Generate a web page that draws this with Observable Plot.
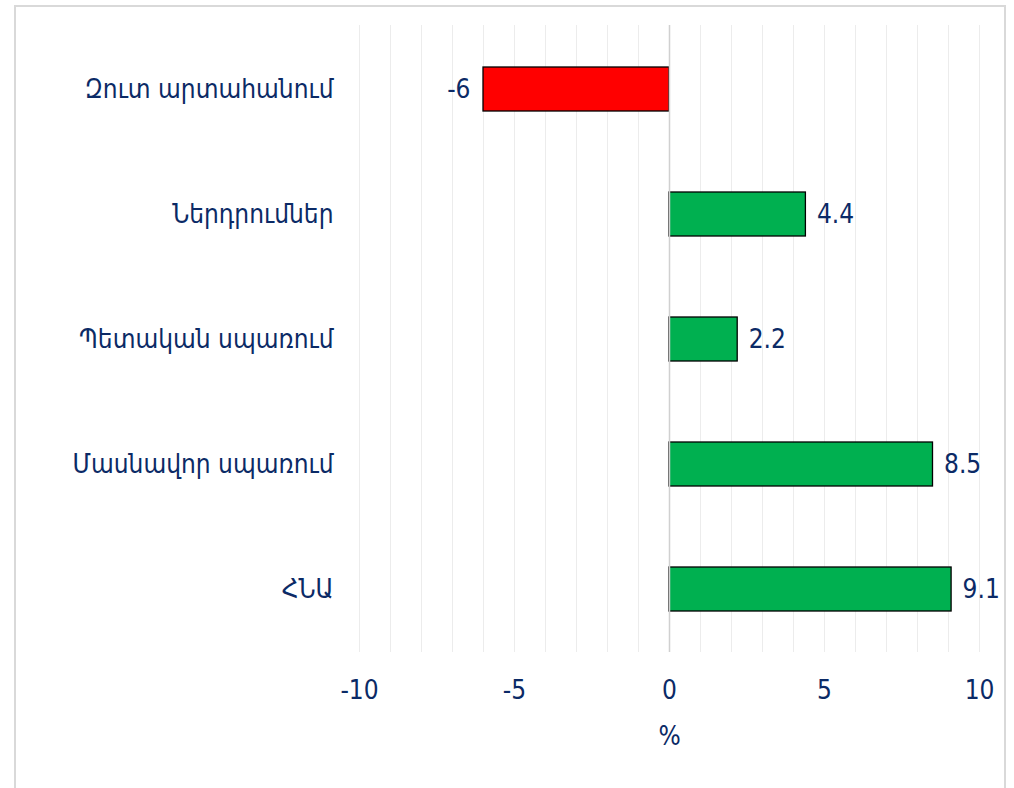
<!DOCTYPE html>
<html>
<head>
<meta charset="utf-8">
<script src="https://cdn.jsdelivr.net/npm/d3@7"></script>
<script src="https://cdn.jsdelivr.net/npm/@observablehq/plot@0.6"></script>
<style>
  html, body { margin: 0; padding: 0; background: #fff; overflow: hidden; }
  #frame { position: absolute; left: 14px; top: 5px; width: 992px; height: 800px; border: 2px solid #d9d9d9; box-sizing: border-box; pointer-events: none; }
  #chart { position: absolute; left: 0; top: 0; }
  #chart svg text { font-stretch: condensed; }
</style>
</head>
<body>
<div id="chart"></div>
<div id="frame"></div>
<script>
const categories = ["Զուտ արտահանում", "Ներդրումներ", "Պետական սպառում", "Մասնավոր սպառում", "ՀՆԱ"];
const values = [-6, 4.4, 2.2, 8.5, 9.1];
const xTicks = [-10, -5, 0, 5, 10];
const gridValues = d3.range(-10, 11);
const axisLabel = "%";

const data = categories.map((c, i) => ({category: c, value: values[i]}));
const textColor = "#0b2a66";
const font = "'DejaVu Sans Condensed', 'DejaVu Sans', sans-serif";

const chart = Plot.plot({
  width: 1014,
  height: 788,
  marginLeft: 359,
  marginRight: 35,
  marginTop: 25,
  marginBottom: 136,
  style: {fontFamily: font, fontSize: "26px", color: textColor, background: "transparent"},
  x: {domain: [-10, 10]},
  y: {domain: categories, paddingInner: 0.65, paddingOuter: 0.325},
  marks: [
    Plot.ruleX(gridValues.filter(d => d !== 0), {stroke: "#ececec", strokeWidth: 1}),
    Plot.barX(data, {
      x: "value", y: "category",
      fill: d => d.value < 0 ? "#ff0000" : "#00b050",
      stroke: "#000", strokeWidth: 1.3
    }),
    Plot.ruleX([0], {stroke: "#d0d0d0", strokeWidth: 1.5}),
    Plot.text(data.filter(d => d.value >= 0), {
      x: "value", y: "category", text: d => String(d.value),
      textAnchor: "start", dx: 11, fill: textColor, fontSize: 26, fontFamily: font
    }),
    Plot.text(data.filter(d => d.value < 0), {
      x: "value", y: "category", text: d => String(d.value),
      textAnchor: "end", dx: -13, fill: textColor, fontSize: 26, fontFamily: font
    }),
    Plot.axisY({tickSize: 0, tickPadding: 26, label: null, fill: textColor, fontSize: 26, fontFamily: font}),
    Plot.axisX({ticks: xTicks, tickSize: 0, tickPadding: 28, tickFormat: d => String(d),
      label: axisLabel, labelAnchor: "center", labelArrow: "none", labelOffset: 92,
      fill: textColor, fontSize: 26, fontFamily: font})
  ]
});
document.getElementById("chart").appendChild(chart);
</script>
</body>
</html>
